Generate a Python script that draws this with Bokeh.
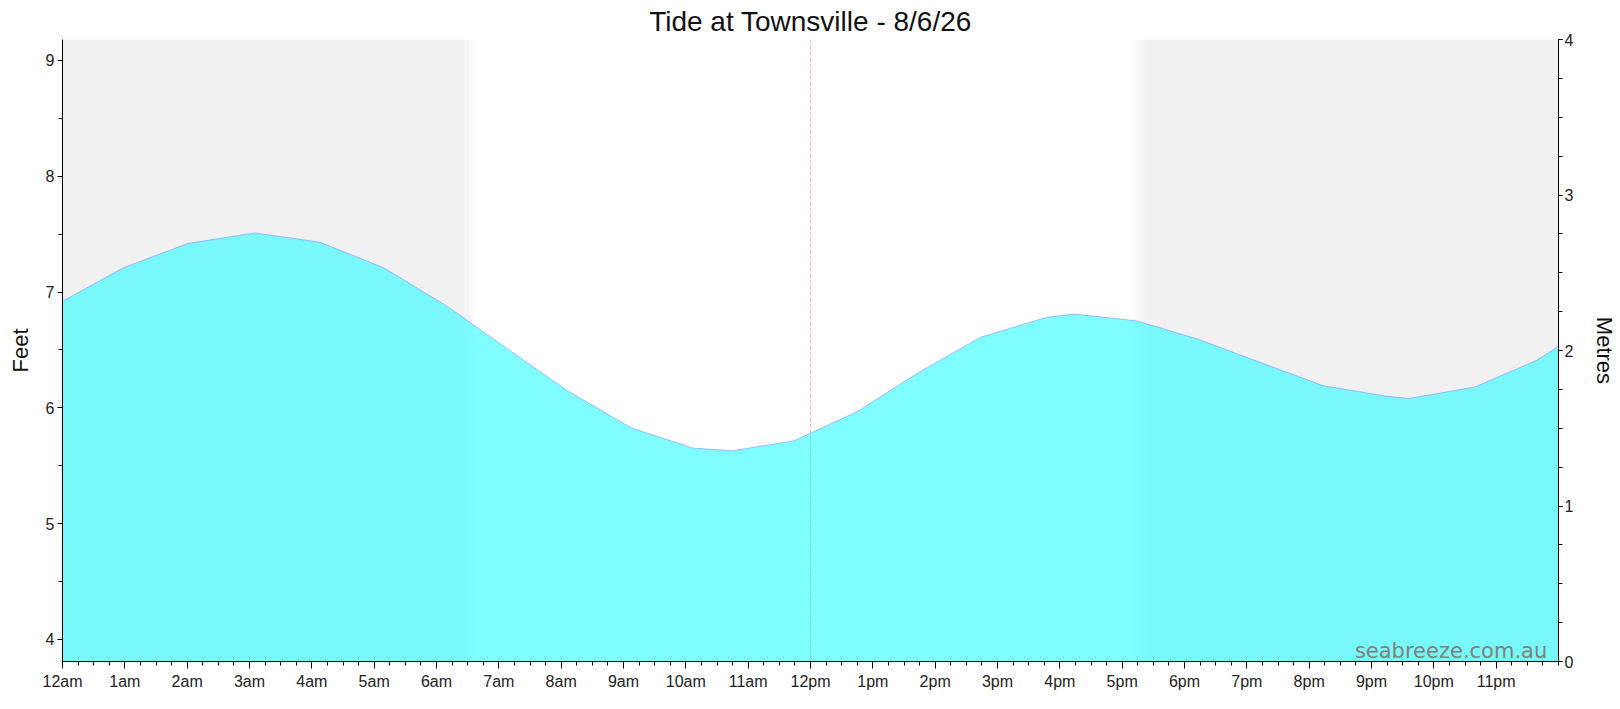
from bokeh.plotting import figure
from bokeh.models import (Range1d, LinearAxis, FixedTicker, Span, Label)
from bokeh.embed import file_html
from bokeh.resources import INLINE

# ---- data ----
title_text = "Tide at Townsville - 8/6/26"
hours = [0.0, 0.98, 2.02, 3.09, 4.13, 5.15, 6.19, 7.16, 8.12, 9.13, 10.11, 10.75,
         11.74, 12.76, 13.72, 14.73, 15.78, 16.23, 17.24, 18.23, 19.25, 20.23,
         21.25, 21.60, 22.66, 23.65, 24.0]
tide_ft = [6.92, 7.21, 7.42, 7.51, 7.43, 7.21, 6.87, 6.50, 6.14, 5.825, 5.653, 5.629,
           5.716, 5.97, 6.30, 6.61, 6.78, 6.81, 6.75, 6.59, 6.385, 6.19,
           6.10, 6.08, 6.18, 6.41, 6.53]
hour_ticks = list(range(24))
hour_labels = ["12am", "1am", "2am", "3am", "4am", "5am", "6am", "7am", "8am", "9am",
               "10am", "11am", "12pm", "1pm", "2pm", "3pm", "4pm", "5pm", "6pm", "7pm",
               "8pm", "9pm", "10pm", "11pm"]
feet_ticks = [4, 5, 6, 7, 8, 9]
metre_ticks = [0, 1, 2, 3, 4]
sunrise_hour = 6.42
sunset_hour = 17.14
twilight_len = 0.25
now_hour = 12.0
x_end = 24.0
ft_lo, ft_hi = 3.81, 9.18
m_lo, m_hi = 0, 4

FONT = "Liberation Sans"

p = figure(width=1620, height=709, output_backend="svg", toolbar_location=None,
           x_range=Range1d(0, x_end), y_range=Range1d(ft_lo, ft_hi),
           min_border_left=62, min_border_right=60, min_border_top=39, min_border_bottom=48)
p.extra_y_ranges = {"m": Range1d(m_lo, m_hi)}
p.outline_line_color = None
p.xgrid.visible = False
p.ygrid.visible = False
p.background_fill_color = "white"
p.border_fill_color = "white"

p.title.text = title_text
p.title.align = "center"
p.title.text_font = FONT
p.title.text_font_size = "28px"
p.title.text_font_style = "normal"
p.title.text_color = "#111111"
p.title.standoff = 5

# night shading with a soft edge
night = "#f1f1f1"
p.quad(left=[0], right=[sunrise_hour], bottom=[ft_lo], top=[ft_hi],
       fill_color=night, line_color=None)
p.quad(left=[sunset_hour + twilight_len], right=[x_end], bottom=[ft_lo], top=[ft_hi],
       fill_color=night, line_color=None)
nsteps = 12
for i in range(nsteps):
    l = sunrise_hour + twilight_len * i / nsteps
    p.quad(left=[l], right=[l + twilight_len / nsteps], bottom=[ft_lo], top=[ft_hi],
           fill_color=night, fill_alpha=1 - (i + 0.5) / nsteps, line_color=None)
    l2 = sunset_hour + twilight_len * i / nsteps
    p.quad(left=[l2], right=[l2 + twilight_len / nsteps], bottom=[ft_lo], top=[ft_hi],
           fill_color=night, fill_alpha=(i + 0.5) / nsteps, line_color=None)

# current time line (under the water fill)
p.add_layout(Span(location=now_hour, dimension="height", line_color="#ff0000",
                  line_alpha=0.3, line_width=1, line_dash="4 2", level="underlay"))

# tide fill
p.varea(x=hours, y1=[ft_lo - 1] * len(hours), y2=tide_ft, fill_color="#00ffff", fill_alpha=0.5)
p.line(hours, tide_ft, line_color="#8a9cff", line_alpha=0.7, line_width=1)

# axes
xa = p.xaxis[0]
xa.ticker = FixedTicker(ticks=hour_ticks, minor_ticks=[i / 4 for i in range(0, 97)])
xa.major_label_overrides = {h: lab for h, lab in zip(hour_ticks, hour_labels)}
ya = p.yaxis[0]
ya.ticker = FixedTicker(ticks=feet_ticks, minor_ticks=[3.5 + i * 0.5 for i in range(13)])
ya.axis_label = "Feet"

ra = LinearAxis(y_range_name="m", axis_label="Metres",
                ticker=FixedTicker(ticks=metre_ticks, minor_ticks=[i / 4 for i in range(17)]))
p.add_layout(ra, "right")

for ax in [xa, ya, ra]:
    ax.axis_line_color = "black"
    ax.major_tick_line_color = "black"
    ax.minor_tick_line_color = "black"
    ax.major_tick_in = 0
    ax.minor_tick_in = 0
    ax.major_label_text_font = FONT
    ax.major_label_text_font_size = "16px"
    ax.major_label_text_color = "#222222"
    ax.axis_label_text_font = FONT
    ax.axis_label_text_font_size = "22px"
    ax.axis_label_text_font_style = "normal"
    ax.axis_label_text_color = "#111111"
xa.major_tick_out = 7
xa.minor_tick_out = 4
xa.major_label_standoff = 4
ya.major_tick_out = 5
ya.minor_tick_out = 4
ya.major_label_standoff = 3
ra.major_tick_out = 4
ra.minor_tick_out = 4
ra.major_label_standoff = 2
ya.axis_label_standoff = 10
ra.axis_label_standoff = 16

# watermark
p.add_layout(Label(x=23.82, y=3.90, text="seabreeze.com.au", text_align="right",
                   text_baseline="alphabetic", text_font="DejaVu Sans",
                   text_font_size="21px", text_color="#808080"))

open("out.html", "w").write(file_html(p, INLINE))
